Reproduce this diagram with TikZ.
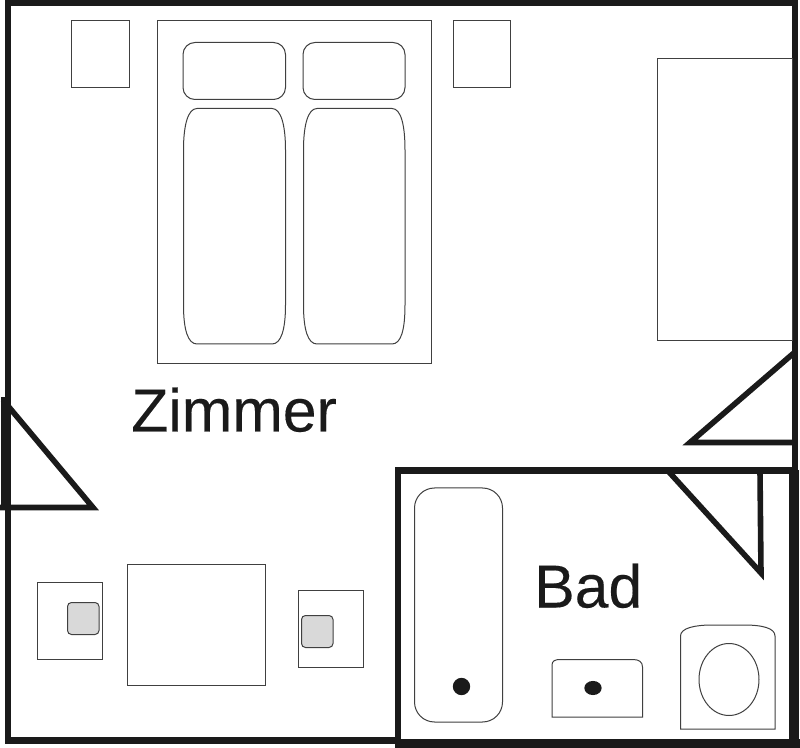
\documentclass[tikz,border=0pt]{standalone}
\usepackage{fontspec}
\setmainfont[FakeBold=0.25]{Liberation Sans}
\definecolor{wallc}{HTML}{1A1A1A}
\definecolor{thinc}{HTML}{404040}
\definecolor{cushc}{HTML}{D9D9D9}
\tikzset{
  wall/.style={draw=wallc,line width=4.8pt,line join=miter,miter limit=20},
  doorleaf/.style={draw=wallc,line width=4.2pt,line join=miter,miter limit=20},
  furn/.style={draw=thinc,line width=0.75pt},
  cushion/.style={furn,fill=cushc,rounded corners=3pt},
  dot/.style={fill=wallc,draw=none},
  label/.style={font=\fontsize{45.5}{50}\selectfont,text=wallc,inner sep=0pt,anchor=base west}
}
\begin{document}
\begin{tikzpicture}[x=0.75pt,y=-0.75pt]
\useasboundingbox (0,0) rectangle (800,748);
\fill[white] (0,0) rectangle (800,748);
% outer walls
\draw[wall] (8,743) -- (8,2.5) -- (795,2.5) -- (795,470);
\draw[wall] (5,740.5) -- (400,740.5);
% Bad walls
\draw[wall,line width=5pt] (398,748) -- (398,470.5) -- (795,470.5);
\draw[wall,line width=7.5pt] (794,470) -- (794,748);
\draw[wall,line width=7pt] (395,743.5) -- (800,743.5);
% doors
\draw[doorleaf,line width=6pt] (5.5,397) -- (5.5,510);
\draw[doorleaf] (0,507.5) -- (93,507.5) -- (3,400);
\draw[doorleaf] (795,352) -- (690,442.5) -- (795,442.5);
\draw[doorleaf] (669,472) -- (761,573) -- (760,471);
% bed
\draw[furn] (157,20.5) rectangle (431,363.5);
\draw[furn,rounded corners=9pt] (183,42.5) rectangle (285.5,99.5);
\draw[furn,rounded corners=9pt] (303,42.5) rectangle (405,99.5);
\draw[furn] (197,108.5) -- (272,108.5) .. controls (281,108.5) and (285.5,125) .. (285.5,150) -- (285.5,305) .. controls (285.5,330) and (281,344) .. (272,344) -- (197,344) .. controls (188,344) and (183.5,330) .. (183.5,305) -- (183.5,150) .. controls (183.5,125) and (188,108.5) .. (197,108.5) -- cycle;
\draw[furn] (317,108.5) -- (392,108.5) .. controls (401,108.5) and (405,125) .. (405,150) -- (405,305) .. controls (405,330) and (401,344) .. (392,344) -- (317,344) .. controls (308,344) and (303.5,330) .. (303.5,305) -- (303.5,150) .. controls (303.5,125) and (308,108.5) .. (317,108.5) -- cycle;
\draw[furn] (71,20.5) rectangle (129,87.5);
\draw[furn] (453,20.5) rectangle (510,87.5);
\draw[furn] (657,58.5) rectangle (792,341);
% table and chairs
\draw[furn] (127,564) rectangle (265,685);
\draw[furn] (37,582) rectangle (102,659);
\draw[cushion] (67.5,602.5) rectangle (99,634.5);
\draw[furn] (298,590) rectangle (363,667);
\draw[cushion] (301.5,615.5) rectangle (333,647.5);
% bathtub
\draw[furn,rounded corners=15pt] (414.5,488) rectangle (502.5,722);
\fill[dot] (461.5,686.5) circle [radius=6.5pt];
% basin
\draw[furn] (552,717) -- (552,665) .. controls (552,661) and (555,659.5) .. (560,659.5) -- (633,659.5) .. controls (639,659.5) and (642.5,662) .. (642.5,667) -- (642.5,717) -- cycle;
\fill[dot] (593,688) ellipse [x radius=6.5pt,y radius=5.3pt];
% toilet
\draw[furn] (680.5,729) -- (680.5,636) .. controls (680.5,628) and (695,625) .. (712,625) -- (744,625) .. controls (762,625) and (775,628) .. (775,636) -- (775,729) -- cycle;
\draw[furn] (729,679.5) ellipse [x radius=22.5pt,y radius=27pt];
% labels
\node[label] (zimmer) at (131,431.5) {Zimmer};
\node[label] (bad) at (534,607.5) {Bad};
\end{tikzpicture}
\end{document}
